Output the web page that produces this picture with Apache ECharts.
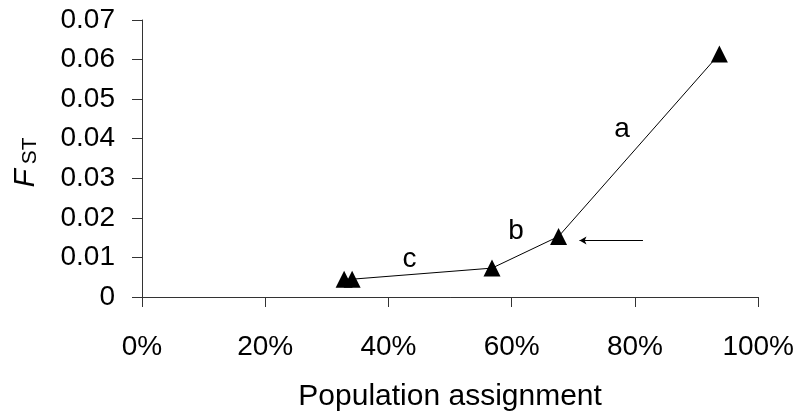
<!DOCTYPE html>
<html>
<head>
<meta charset="utf-8">
<script src="https://cdn.jsdelivr.net/npm/echarts@6/dist/echarts.min.js"></script>
<style>
  html, body { margin: 0; padding: 0; background: #fff; }
  #chart { width: 797px; height: 417px; }
</style>
</head>
<body>
<div id="chart"></div>
<script>
// Population assignment (%) versus F_ST
const assignment = [32.8, 34.1, 56.8, 67.6, 93.7];
const fst = [0.0045, 0.0045, 0.0073, 0.0153, 0.0614];

// Segment labels placed in data space
const segLabels = ['a', 'b', 'c'];
const segLabelX = [77.9, 60.7, 43.4];
const segLabelY = [0.0423, 0.0165, 0.0095];

// Arrow pointing at the highlighted point
const arrowFrom = [81.3, 0.0143];
const arrowTo = [71.0, 0.0143];

const xTicks = { min: 0, max: 100, interval: 20 };
const yTicks = { min: 0, max: 0.07, interval: 0.01 };

const FONT = '"Liberation Sans", Arial, sans-serif';

const chart = echarts.init(document.getElementById('chart'), null, { renderer: 'canvas' });

chart.setOption({
  animation: false,
  backgroundColor: '#ffffff',
  grid: { left: 142, right: 37, top: 20, bottom: 119.3, containLabel: false },
  xAxis: {
    type: 'value',
    min: xTicks.min, max: xTicks.max, interval: xTicks.interval,
    name: 'Population assignment',
    nameLocation: 'middle',
    nameGap: 85,
    nameTextStyle: { fontFamily: FONT, fontSize: 30, color: '#000' },
    axisLine: { show: true, onZero: false, lineStyle: { color: '#333', width: 1 } },
    axisTick: { show: true, inside: false, length: 10, lineStyle: { color: '#333' } },
    axisLabel: { formatter: '{value}%', margin: 36, fontFamily: FONT, fontSize: 28, color: '#000' },
    splitLine: { show: false }
  },
  yAxis: {
    type: 'value',
    min: yTicks.min, max: yTicks.max, interval: yTicks.interval,
    name: '{f|F}{s|ST}',
    nameLocation: 'middle',
    nameGap: 101,
    nameRotate: 90,
    nameTextStyle: {
      padding: [0, 8, 0, 0],
      rich: {
        f: { fontFamily: FONT, fontSize: 30, fontStyle: 'italic', color: '#000', verticalAlign: 'bottom', lineHeight: 32, padding: [0, 5, 0, 0] },
        s: { fontFamily: FONT, fontSize: 21, color: '#000', verticalAlign: 'bottom', lineHeight: 30 }
      }
    },
    axisLine: { show: true, onZero: false, lineStyle: { color: '#333', width: 1 } },
    axisTick: { show: true, inside: false, length: 10, lineStyle: { color: '#333' } },
    axisLabel: {
      margin: 27, fontFamily: FONT, fontSize: 28, color: '#000',
      formatter: v => (v === 0 ? '0' : v.toFixed(2))
    },
    splitLine: { show: false }
  },
  series: [
    {
      type: 'line',
      data: assignment.map((x, i) => [x, fst[i]]),
      symbol: 'triangle',
      symbolSize: [17, 17],
      itemStyle: { color: '#000' },
      lineStyle: { color: '#000', width: 1 },
      z: 3,
      markLine: {
        silent: true,
        symbol: ['none', 'arrow'],
        symbolSize: [6, 7],
        label: { show: false },
        lineStyle: { color: '#000', width: 1, type: 'solid' },
        data: [[{ coord: arrowFrom }, { coord: arrowTo }]]
      }
    },
    {
      type: 'scatter',
      data: segLabels.map((t, i) => ({ value: [segLabelX[i], segLabelY[i]], name: t })),
      symbolSize: 0,
      silent: true,
      itemStyle: { opacity: 1 },
      label: {
        show: true,
        position: 'inside',
        formatter: p => p.name,
        fontFamily: FONT, fontSize: 28, color: '#000'
      }
    }
  ]
});
</script>
</body>
</html>
